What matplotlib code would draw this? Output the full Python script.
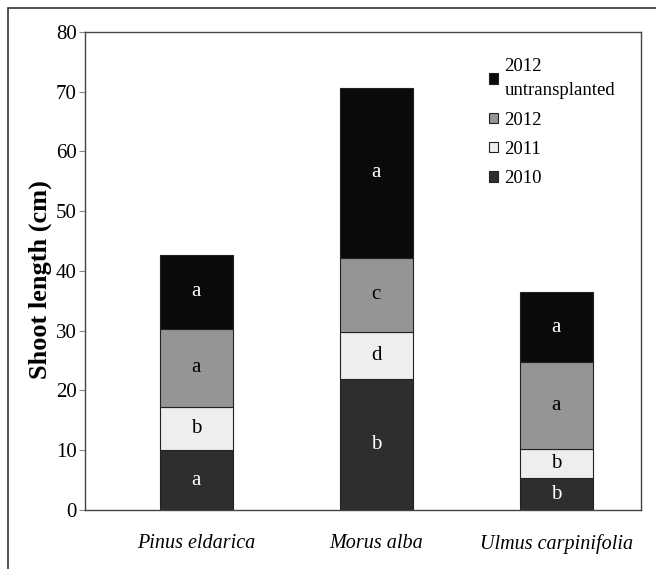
import matplotlib
matplotlib.use('Agg')
import matplotlib.pyplot as plt
import numpy as np

plt.rcParams['font.family'] = ['Liberation Serif', 'DejaVu Serif']

species = ['Pinus eldarica', 'Morus alba', 'Ulmus carpinifolia']
y2010 = [10.0, 22.0, 5.3]
y2011 = [7.3, 7.8, 4.9]
y2012 = [13.0, 12.4, 14.5]
y2012u = [12.4, 28.4, 11.7]

let2010 = ['a', 'b', 'b']
let2011 = ['b', 'd', 'b']
let2012 = ['a', 'c', 'a']
let2012u = ['a', 'a', 'a']

series = [('2010', y2010, let2010, '#2e2e2e', 'white'),
          ('2011', y2011, let2011, '#eeeeee', 'black'),
          ('2012', y2012, let2012, '#959595', 'black'),
          ('2012\nuntransplanted', y2012u, let2012u, '#0a0a0a', 'white')]

fig = plt.figure(figsize=(6.56, 5.69), dpi=100)
ax = fig.add_axes([0.1296, 0.1037, 0.8474, 0.8401])

# outer frame
fig.patches.append(plt.Rectangle((8/656, -0.01), 1.0, 1 - 8/569 + 0.01, transform=fig.transFigure,
                                 fill=False, edgecolor='#333333', linewidth=1.2))

x = np.arange(len(species))
bottom = np.zeros(len(species))
handles = []
for name, vals, lets, col, tcol in series:
    vals = np.array(vals)
    b = ax.bar(x, vals, 0.405, bottom=bottom, color=col, edgecolor='#222222', linewidth=0.8, label=name)
    handles.append(b)
    for i in range(len(species)):
        ax.text(x[i], bottom[i] + vals[i] / 2, lets[i], ha='center', va='center',
                color=tcol, fontsize=15)
    bottom = bottom + vals

ax.set_xlim(-0.617, 2.47)
ax.set_ylim(0, 80)
ax.set_yticks(range(0, 81, 10))
ax.tick_params(axis='y', labelsize=15, length=4, direction='out', pad=2, color='#888888')
ax.tick_params(axis='x', length=0, pad=17)
ax.set_xticks(x)
ax.set_xticklabels(species, fontsize=14.5, style='italic')
ax.set_ylabel('Shoot length (cm)', fontsize=19, fontweight='bold')
ax.yaxis.set_label_coords(-0.06, 0.483)
for s in ax.spines.values():
    s.set_color('#444444')
    s.set_linewidth(1.0)

leg = ax.legend(handles[::-1], [h.get_label() for h in handles[::-1]], loc='upper left',
                bbox_to_anchor=(0.726, 0.945), frameon=False, fontsize=13.5,
                borderpad=0, borderaxespad=0,
                handlelength=0.5, handleheight=0.5, handletextpad=0.35, labelspacing=0.65)
leg.get_texts()[0].set_linespacing(1.55)

fig.savefig('out.png', dpi=100)
